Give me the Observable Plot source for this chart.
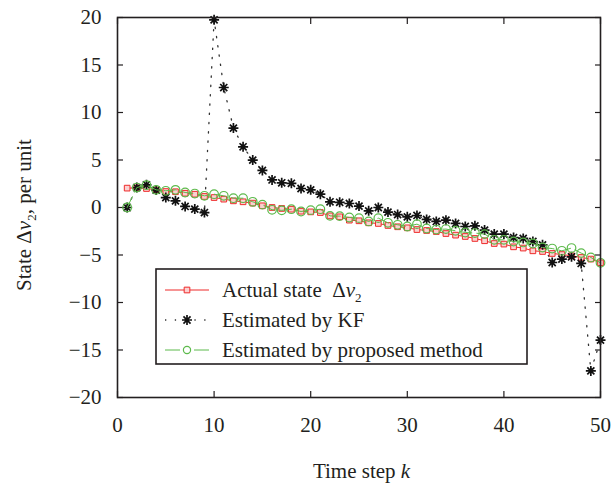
<!DOCTYPE html>
<html><head><meta charset="utf-8">
<script src="https://cdn.jsdelivr.net/npm/d3@7"></script>
<script src="https://cdn.jsdelivr.net/npm/@observablehq/plot@0.6"></script>
<style>
body{margin:0;background:#fff}
svg{display:block}
#chart svg, #chart svg text, #chart svg tspan { font-family: "Liberation Serif", "Times New Roman", serif !important; }
</style>
</head><body><div id="chart"></div>
<script>
const steps = [1,2,3,4,5,6,7,8,9,10,11,12,13,14,15,16,17,18,19,20,21,22,23,24,25,26,27,28,29,30,31,32,33,34,35,36,37,38,39,40,41,42,43,44,45,46,47,48,49,50];
const actualState = [2.04,2.06,2.0,1.86,1.68,1.66,1.5,1.4,1.16,1.05,
  0.88,0.7,0.6,0.46,0.18,0.0,-0.1,-0.18,-0.39,-0.46,
  -0.53,-0.88,-0.98,-1.33,-1.4,-1.61,-1.68,-1.89,-2.03,-2.14,
  -2.32,-2.42,-2.53,-2.74,-2.91,-3.05,-3.26,-3.5,-3.79,-3.85,
  -4.14,-4.27,-4.56,-4.63,-4.84,-4.95,-5.08,-5.26,-5.43,-5.82];
const kfEstimate = [0.0,2.1,2.39,1.83,1.05,0.7,0.11,-0.17,-0.53,19.76,
  12.63,8.36,6.39,4.99,3.9,2.9,2.6,2.55,2.0,1.86,
  1.4,0.6,0.55,0.42,0.15,-0.35,0.0,-0.48,-0.74,-0.98,
  -0.84,-1.26,-1.47,-1.33,-1.68,-2.0,-1.93,-2.38,-2.8,-2.8,
  -3.16,-3.26,-3.58,-3.93,-5.79,-5.43,-5.19,-5.89,-17.2,-13.96];
const proposedEstimate = [0.0,2.1,2.35,1.86,1.76,1.86,1.58,1.47,1.23,1.4,
  1.23,0.98,0.98,0.6,0.3,-0.24,-0.3,-0.18,-0.42,-0.28,
  -0.18,-0.88,-0.91,-1.05,-1.12,-1.47,-1.12,-1.61,-1.82,-2.0,
  -1.75,-2.21,-2.32,-2.27,-2.45,-2.63,-2.69,-2.8,-3.4,-3.4,
  -3.58,-3.68,-3.79,-4.21,-4.32,-4.56,-4.27,-4.8,-5.26,-5.82];
const xTicks = [0,10,20,30,40,50];
const yTicks = [-20,-15,-10,-5,0,5,10,15,20];
const legendLabels = ["Actual state", "Estimated by KF", "Estimated by proposed method"];

const RED = "#ee2b2b", GREEN = "#5dba4c", BLACK = "#111", INK = "#231f20";
const FS = 21;

const star8 = {draw(ctx, size) {
  const r = Math.sqrt(size / Math.PI), d = r * Math.SQRT1_2;
  ctx.moveTo(-r, 0); ctx.lineTo(r, 0);
  ctx.moveTo(0, -r); ctx.lineTo(0, r);
  ctx.moveTo(-d, -d); ctx.lineTo(d, d);
  ctx.moveTo(-d, d); ctx.lineTo(d, -d);
}};

const actualData = steps.map((k, i) => ({k, v: actualState[i]}));
const kfData = steps.map((k, i) => ({k, v: kfEstimate[i]}));
const propData = steps.map((k, i) => ({k, v: proposedEstimate[i]}));

const chart = Plot.plot({
  width: 612, height: 487,
  marginLeft: 117, marginRight: 12, marginTop: 17, marginBottom: 90,
  x: {domain: [0, 50]},
  y: {domain: [-20, 20]},
  style: {fontSize: FS + "px", color: INK, background: "#fff"},
  marks: [
    // tick labels
    Plot.axisX(xTicks, {anchor: "bottom", tickSize: 0, tickPadding: 20, label: null, fontSize: FS}),
    Plot.axisY(yTicks, {anchor: "left", tickSize: 0, tickPadding: 16, label: null, fontSize: FS}),
    // inward ticks
    Plot.axisX(xTicks, {anchor: "bottom", tickSize: 6, dy: -6, tickFormat: () => "", label: null, strokeWidth: 1.2}),
    Plot.axisX(xTicks, {anchor: "top", tickSize: 6, dy: 6, tickFormat: () => "", label: null, strokeWidth: 1.2}),
    Plot.axisY(yTicks, {anchor: "left", tickSize: 6, dx: 6, tickFormat: () => "", label: null, strokeWidth: 1.2}),
    Plot.axisY(yTicks, {anchor: "right", tickSize: 6, dx: -6, tickFormat: () => "", label: null, strokeWidth: 1.2}),
    // series
    Plot.line(kfData, {x: "k", y: "v", stroke: "#333", strokeWidth: 1.3, strokeDasharray: "1.3,8"}),
    Plot.line(actualData, {x: "k", y: "v", stroke: RED, strokeWidth: 1}),
    Plot.dot(actualData, {x: "k", y: "v", symbol: "square", r: 3.2, stroke: RED, strokeWidth: 1, fill: "#fbd0d0"}),
    Plot.dot(kfData, {x: "k", y: "v", symbol: star8, r: 5, stroke: BLACK, strokeWidth: 1.7}),
    Plot.line(propData, {x: "k", y: "v", stroke: GREEN, strokeWidth: 1, strokeDasharray: "12,5"}),
    Plot.dot(propData, {x: "k", y: "v", symbol: "circle", r: 4.3, stroke: GREEN, strokeWidth: 1.2, fill: "none"}),
    Plot.frame({stroke: INK, strokeWidth: 1.6})
  ]
});
document.getElementById("chart").appendChild(chart);

// axis labels and legend
const svg = d3.select(chart);
const sx = chart.scale("x"), sy = chart.scale("y");
const [x0, x1] = sx.range, [y0, y1] = sy.range;

const xl = svg.append("text")
  .attr("x", (x0 + x1) / 2 + 3).attr("y", 478)
  .attr("text-anchor", "middle").attr("fill", INK)
  .style("font-size", FS + "px");
xl.append("tspan").text("Time step ");
xl.append("tspan").attr("font-style", "italic").text("k");

const yl = svg.append("text")
  .attr("transform", `translate(31,${(y0 + y1) / 2 + 8}) rotate(-90)`)
  .attr("text-anchor", "middle").attr("fill", INK)
  .style("font-size", FS + "px");
yl.append("tspan").text("State \u0394");
yl.append("tspan").attr("font-style", "italic").text("v");
yl.append("tspan").attr("font-size", "13px").attr("dy", 5).text("2");
yl.append("tspan").attr("dy", -5).text(", per unit");

// legend
const lg = svg.append("g").attr("text-anchor", "start").style("font-size", FS + "px");
lg.append("rect").attr("x", 156).attr("y", 269).attr("width", 371).attr("height", 95)
  .attr("fill", "#fff").attr("stroke", INK).attr("stroke-width", 1.6);
const rows = [290, 320, 350];
const lx0 = 165, lx1 = 209, lm = 187, tx = 222;
// row 1: actual
lg.append("line").attr("x1", lx0).attr("x2", lx1).attr("y1", rows[0]).attr("y2", rows[0])
  .attr("stroke", RED).attr("stroke-width", 1);
lg.append("path").attr("d", d3.symbol(d3.symbolSquare, 3.2 * 3.2 * Math.PI)())
  .attr("transform", `translate(${lm},${rows[0]})`)
  .attr("stroke", RED).attr("fill", "#fbd0d0");
// row 2: KF
lg.append("line").attr("x1", lx0).attr("x2", lx1).attr("y1", rows[1]).attr("y2", rows[1])
  .attr("stroke", "#333").attr("stroke-width", 1.3).attr("stroke-dasharray", "1.3,8.5");
lg.append("path").attr("d", d3.symbol(star8, 25 * Math.PI)())
  .attr("transform", `translate(${lm},${rows[1]})`)
  .attr("stroke", BLACK).attr("stroke-width", 1.7).attr("fill", "none");
// row 3: proposed
lg.append("line").attr("x1", lx0).attr("x2", lx1).attr("y1", rows[2]).attr("y2", rows[2])
  .attr("stroke", GREEN).attr("stroke-width", 1).attr("stroke-dasharray", "15,14");
lg.append("circle").attr("cx", lm).attr("cy", rows[2]).attr("r", 3.6)
  .attr("stroke", GREEN).attr("stroke-width", 1.2).attr("fill", "#fff");

const t1 = lg.append("text").attr("x", tx).attr("y", rows[0] + 7).attr("fill", INK);
t1.append("tspan").text(legendLabels[0] + "\u00a0 \u0394");
t1.append("tspan").attr("font-style", "italic").text("v");
t1.append("tspan").attr("font-size", "13px").attr("dy", 5).text("2");
lg.append("text").attr("x", tx).attr("y", rows[1] + 7).attr("fill", INK).text(legendLabels[1]);
lg.append("text").attr("x", tx).attr("y", rows[2] + 7).attr("fill", INK).text(legendLabels[2]);
</script>
</body></html>
